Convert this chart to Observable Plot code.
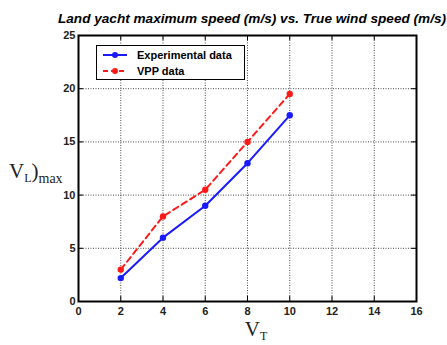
<!DOCTYPE html>
<html><head><meta charset="utf-8">
<script src="https://cdn.jsdelivr.net/npm/d3@7"></script>
<script src="https://cdn.jsdelivr.net/npm/@observablehq/plot@0.6"></script>
<style>
body{margin:0;background:#fff;}
#wrap{position:relative;width:447px;height:345px;}
#legend{position:absolute;left:96px;top:45px;width:149px;height:35px;border:1px solid #000;background:#fff;font:bold 11px "Liberation Sans",Arial,sans-serif;box-sizing:border-box;padding-top:1px;}
#legend div{display:flex;align-items:center;height:16px;white-space:nowrap;}
</style></head>
<body><div id="wrap"></div>
<script>
const windSpeed = [2, 4, 6, 8, 10];
const experimental = [2.2, 6, 9, 13, 17.5];
const vpp = [3, 8, 10.5, 15, 19.5];
const xTicks = [0, 2, 4, 6, 8, 10, 12, 14, 16];
const yTicks = [0, 5, 10, 15, 20, 25];
const title = "Land yacht maximum speed (m/s) vs. True wind speed (m/s)";
const seriesNames = ["Experimental data", "VPP data"];

const expData = windSpeed.map((x, i) => ({x, y: experimental[i]}));
const vppData = windSpeed.map((x, i) => ({x, y: vpp[i]}));

const W = 447, H = 345;
const mt = 35, mb = 44, ml = 78, mr = 31;
const plotH = H - mt - mb, plotW = W - ml - mr;
const font = '"Liberation Sans", Arial, sans-serif';

const chart = Plot.plot({
  width: W, height: H,
  marginTop: mt, marginBottom: mb, marginLeft: ml, marginRight: mr,
  style: {fontFamily: font, background: "#fff", overflow: "visible"},
  x: {domain: [0, 16]},
  y: {domain: [0, 25]},
  marks: [
    Plot.gridX(xTicks.slice(1, -1), {stroke: "#000", strokeOpacity: 0.7, strokeDasharray: "1,1.5"}),
    Plot.gridY(yTicks.slice(1, -1), {stroke: "#000", strokeOpacity: 0.7, strokeDasharray: "1,1.5"}),
    // inward ticks
    Plot.tickX(xTicks, {x: d => d, insetTop: plotH - 5, stroke: "#000", strokeWidth: 1}),
    Plot.tickX(xTicks, {x: d => d, insetBottom: plotH - 5, stroke: "#000", strokeWidth: 1}),
    Plot.tickY(yTicks, {y: d => d, insetRight: plotW - 5, stroke: "#000", strokeWidth: 1}),
    Plot.tickY(yTicks, {y: d => d, insetLeft: plotW - 5, stroke: "#000", strokeWidth: 1}),
    Plot.axisX(xTicks, {tickSize: 0, tickPadding: 6, fontSize: 11, fontWeight: "bold", label: null, fill: "#222"}),
    Plot.axisY(yTicks, {tickSize: 0, tickPadding: 3, fontSize: 11, fontWeight: "bold", label: null, fill: "#222"}),
    Plot.frame({stroke: "#000", strokeWidth: 2}),
    Plot.line(vppData, {x: "x", y: "y", stroke: "#ff1a1a", strokeWidth: 2, strokeDasharray: "6,4"}),
    Plot.dot(vppData, {x: "x", y: "y", fill: "#ff1a1a", r: 3.2}),
    Plot.line(expData, {x: "x", y: "y", stroke: "#1a1aff", strokeWidth: 2}),
    Plot.dot(expData, {x: "x", y: "y", fill: "#1a1aff", r: 3.2}),
    Plot.text([title], {frameAnchor: "top", dy: -22, dx: 4.5, fontSize: 13.6, fontWeight: "bold", fontStyle: "italic", fill: "#000"})
  ]
});

const svg = d3.select(chart);
// y label V_L)max
const yl = svg.append("text").attr("x", 9).attr("y", 178).attr("text-anchor", "start")
  .attr("font-family", '"Liberation Serif","Times New Roman",serif').attr("font-size", 21).attr("fill", "#222");
yl.append("tspan").text("V");
yl.append("tspan").attr("font-size", 12).attr("dy", 4).text("L");
yl.append("tspan").attr("dy", -4).text(")");
yl.append("tspan").attr("font-size", 14).attr("dy", 5).text("max");
// x label V_T
const xl = svg.append("text").attr("x", 256).attr("y", 336).attr("text-anchor", "middle")
  .attr("font-family", '"Liberation Serif","Times New Roman",serif').attr("font-size", 21).attr("fill", "#222");
xl.append("tspan").text("V");
xl.append("tspan").attr("font-size", 12).attr("dy", 4).text("T");

const wrap = document.getElementById("wrap");
wrap.appendChild(chart);

// legend
const colors = ["#1a1aff", "#ff1a1a"];
const leg = document.createElement("div");
leg.id = "legend";
seriesNames.forEach((name, i) => {
  const row = document.createElement("div");
  row.innerHTML = `<svg width="26" height="10" style="margin-left:5px;margin-right:9px;flex:none"><line x1="1" x2="25" y1="5" y2="5" stroke="${colors[i]}" stroke-width="2" ${i === 1 ? `stroke-dasharray="5,3"` : ""}/><circle cx="13" cy="5" r="3" fill="${colors[i]}"/></svg><span>${name}</span>`;
  leg.appendChild(row);
});
wrap.appendChild(leg);
</script></body></html>
